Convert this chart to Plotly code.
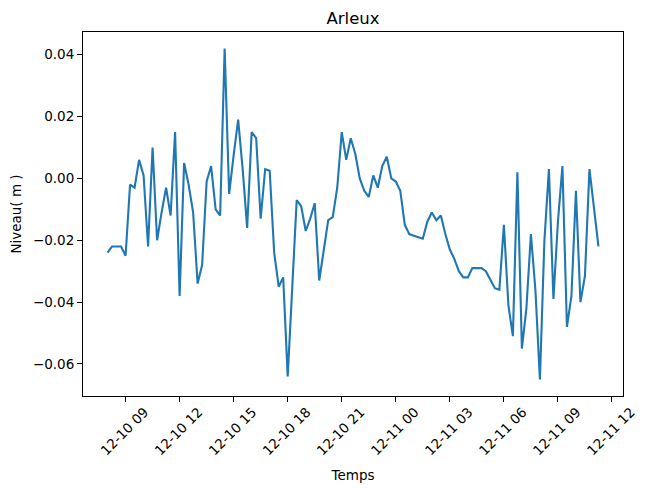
import pandas as pd
import plotly.graph_objects as go

# Data: water level at Arleux, 15-minute samples
start_time = "2023-12-10 08:00"
step = "15min"
niveau = [
    -0.024, -0.022, -0.022, -0.022, -0.025, -0.002, -0.003, 0.006, 0.001, -0.022,
    0.010, -0.020, -0.011, -0.003, -0.012, 0.015, -0.038, 0.005, -0.002, -0.011,
    -0.034, -0.028, -0.001, 0.004, -0.010, -0.012, 0.042, -0.005, 0.0075, 0.019,
    0.003, -0.016, 0.015, 0.013, -0.013, 0.003, 0.0025, -0.024, -0.035, -0.032,
    -0.064, -0.037, -0.007, -0.009, -0.017, -0.013, -0.008, -0.033, -0.023, -0.0135,
    -0.0125, -0.003, 0.015, 0.006, 0.013, 0.008, 0.000, -0.004, -0.006, 0.001,
    -0.003, 0.004, 0.007, 0.000, -0.001, -0.004, -0.015, -0.018, -0.0185, -0.019,
    -0.0195, -0.014, -0.011, -0.0135, -0.012, -0.018, -0.023, -0.026, -0.030, -0.032,
    -0.032, -0.029, -0.029, -0.029, -0.030, -0.033, -0.0355, -0.036, -0.015, -0.041,
    -0.051, 0.002, -0.055, -0.042, -0.018, -0.036, -0.065, -0.020, 0.003, -0.039,
    -0.014, 0.004, -0.048, -0.038, -0.004, -0.040, -0.0315, 0.003, -0.009, -0.022,
]
temps = pd.date_range(start=start_time, periods=len(niveau), freq=step)

title_text = "Arleux"
x_label = "Temps"
y_label = "Niveau( m )"
y_ticks = [-0.06, -0.04, -0.02, 0.00, 0.02, 0.04]

# matplotlib-like 5% margins
span = temps[-1] - temps[0]
x_range = [temps[0] - span * 0.05, temps[-1] + span * 0.05]
ymin, ymax = min(niveau), max(niveau)
yspan = ymax - ymin
y_range = [ymin - 0.05 * yspan, ymax + 0.05 * yspan]

font_family = "DejaVu Sans, sans-serif"

# The page body adds an 8px margin, so the figure is drawn 8px smaller
W, H = 640, 481

fig = go.Figure()
fig.add_trace(go.Scatter(
    x=temps, y=niveau, mode="lines",
    line=dict(color="#1f77b4", width=2.1),
    showlegend=False,
))

fig.update_layout(
    width=W, height=H,
    margin=dict(l=74.5, r=24.5, t=24.3, b=93.3, autoexpand=False),
    paper_bgcolor="white", plot_bgcolor="white",
    font=dict(family=font_family, size=14, color="black"),
    title=dict(text=title_text, x=345 / W, xanchor="center", y=1 - 10 / H, yanchor="middle",
               font=dict(size=16.5, family=font_family, color="black")),
)

fig.update_xaxes(
    range=x_range,
    type="date",
    automargin=False,
    tick0="2023-12-10 00:00", dtick=3 * 3600 * 1000,
    tickformat="%m-%d %H",
    tickangle=-45,
    ticklabelshift=19,
    ticklabelstandoff=-3,
    ticks="outside", ticklen=5, tickwidth=1, tickcolor="black",
    showline=True, linecolor="black", linewidth=1, mirror=True,
    showgrid=False, zeroline=False,
    tickfont=dict(size=13.5, family=font_family, color="black"),
    title=dict(text=x_label, font=dict(size=13.5, family=font_family, color="black"), standoff=13),
)
fig.update_yaxes(
    range=y_range,
    automargin=False,
    tickvals=y_ticks,
    tickformat=".2f",
    ticks="outside", ticklen=5, tickwidth=1, tickcolor="black",
    showline=True, linecolor="black", linewidth=1, mirror=True,
    showgrid=False, zeroline=False,
    tickfont=dict(size=13.5, family=font_family, color="black"),
    title=dict(text=y_label, font=dict(size=13.5, family=font_family, color="black"), standoff=18),
)

fig.write_html("out.html")
